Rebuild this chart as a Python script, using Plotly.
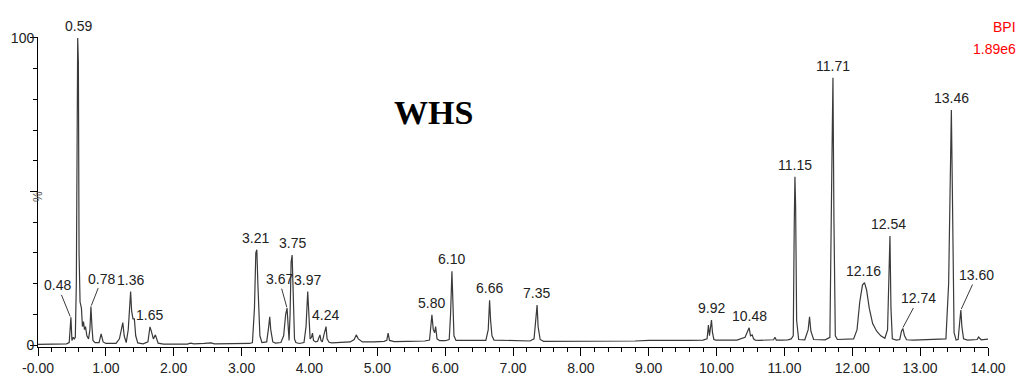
import plotly.graph_objects as go

# ---- chromatogram trace (retention time, min / relative intensity, %) ----
rt_min = [
    0.00, 0.20, 0.30, 0.42, 0.46, 0.475, 0.485, 0.50, 0.52, 0.535, 0.55, 0.565, 0.575, 0.585, 0.595, 0.605,
    0.62, 0.64, 0.655, 0.67, 0.685, 0.70, 0.72, 0.745, 0.765, 0.78, 0.795, 0.81, 0.84, 0.90, 0.93, 0.96, 1.00,
    1.15, 1.20, 1.235, 1.25, 1.27, 1.30, 1.33, 1.35, 1.365, 1.38, 1.40, 1.42, 1.44, 1.47, 1.55, 1.62, 1.65,
    1.67, 1.70, 1.73, 1.745, 1.77, 1.85,
    2.20, 2.25, 2.30, 2.45, 2.55, 2.60, 2.90, 3.12,
    3.16, 3.19, 3.21, 3.225, 3.24, 3.27, 3.30, 3.37, 3.40, 3.415, 3.43, 3.46, 3.50, 3.58, 3.62, 3.65, 3.67,
    3.685, 3.70, 3.715, 3.73, 3.745, 3.76, 3.78, 3.80, 3.85, 3.92, 3.95, 3.975, 3.99, 4.01, 4.03, 4.045, 4.06,
    4.09, 4.12, 4.155, 4.17, 4.19, 4.21, 4.245, 4.26, 4.29, 4.33,
    4.45, 4.60, 4.66, 4.69, 4.72, 4.78, 4.95, 5.10, 5.14, 5.16, 5.18, 5.25, 5.45, 5.60, 5.70,
    5.77, 5.79, 5.805, 5.825, 5.845, 5.86, 5.88, 5.92, 6.00, 6.06, 6.08, 6.10, 6.115, 6.13, 6.16, 6.30,
    6.50, 6.60, 6.635, 6.655, 6.67, 6.69, 6.72, 6.90, 7.10, 7.25, 7.31, 7.34, 7.355, 7.37, 7.40, 7.45,
    7.60, 7.80, 8.00, 8.20, 8.40, 8.60, 8.80, 9.00, 9.20, 9.40, 9.60, 9.80, 9.86, 9.88, 9.895, 9.91, 9.925,
    9.94, 9.96, 9.99, 10.10, 10.30, 10.42, 10.46, 10.48, 10.50, 10.525, 10.545, 10.57, 10.62, 10.75, 10.84,
    10.86, 10.88, 10.95, 11.05, 11.10,
    11.13, 11.145, 11.155, 11.165, 11.18, 11.21, 11.30, 11.35, 11.37, 11.39, 11.43, 11.60, 11.67, 11.70,
    11.715, 11.73, 11.75, 11.78, 11.90, 12.02, 12.07, 12.11, 12.15, 12.18, 12.21, 12.25, 12.30, 12.36, 12.42,
    12.48, 12.52, 12.54, 12.555, 12.57, 12.59, 12.65, 12.70, 12.725, 12.745, 12.77, 12.80, 12.90, 13.10,
    13.25, 13.30, 13.38, 13.42, 13.445, 13.46, 13.475, 13.50, 13.53, 13.56, 13.585, 13.60, 13.615, 13.64,
    13.70, 13.80, 13.84, 13.86, 13.90, 14.00,
]
intensity_pct = [
    0.2, 0.3, 0.5, 0.4, 0.8, 5.0, 9.0, 1.5, 2.5, 2.0, 2.5, 20.0, 70.0, 100.0, 92.0, 30.0,
    14.0, 12.0, 6.0, 7.6, 5.0, 6.0, 3.0, 2.0, 5.0, 12.5, 6.0, 1.5, 0.8, 0.8, 3.6, 1.0, 0.5,
    0.5, 2.0, 6.5, 7.3, 3.0, 0.8, 5.0, 14.0, 17.4, 11.0, 8.5, 8.5, 3.0, 0.7, 0.4, 1.0, 5.9,
    4.5, 2.0, 3.3, 2.5, 0.6, 0.3,
    0.3, 0.6, 0.4, 0.5, 0.7, 0.4, 0.4, 0.5,
    0.8, 12.0, 30.0, 31.0, 20.0, 3.0, 0.8, 1.0, 6.0, 9.2, 5.0, 1.0, 0.6, 0.8, 3.0, 10.0, 12.0,
    5.0, 1.5, 10.0, 27.0, 29.3, 15.0, 2.0, 0.8, 0.5, 0.8, 6.0, 17.4, 8.0, 2.0, 2.5, 3.9, 1.5,
    1.0, 1.2, 3.3, 1.5, 1.0, 3.0, 6.0, 2.0, 0.9, 0.7,
    0.8, 1.0, 1.8, 3.3, 2.0, 1.0, 1.0, 1.2, 1.5, 3.9, 1.5, 1.1, 1.2, 1.3, 1.3,
    1.6, 6.0, 9.8, 5.0, 4.0, 6.0, 2.0, 1.4, 1.4, 1.8, 10.0, 24.0, 15.0, 3.0, 1.5, 1.5,
    1.5, 1.5, 5.0, 14.6, 8.0, 3.0, 1.6, 1.5, 1.2, 1.3, 2.0, 8.0, 13.0, 6.0, 1.8, 1.2,
    1.2, 1.3, 1.3, 1.4, 1.3, 1.4, 1.3, 1.5, 1.4, 1.5, 1.5, 1.6, 2.0, 6.5, 3.0, 6.0, 8.1,
    4.0, 1.8, 1.6, 1.6, 1.6, 2.5, 4.5, 5.6, 3.0, 3.3, 2.0, 1.6, 1.5, 1.6, 1.7,
    2.5, 1.6, 1.6, 1.7, 2.0,
    3.0, 40.0, 54.8, 45.0, 8.0, 1.8, 1.7, 5.0, 9.2, 4.5, 1.8, 1.7, 2.5, 60.0,
    87.0, 40.0, 3.0, 1.8, 1.8, 2.0, 5.0, 14.0, 19.5, 20.3, 18.0, 12.0, 7.0, 4.5, 3.0,
    2.2, 5.0, 30.0, 35.5, 12.0, 2.0, 1.6, 1.8, 4.5, 5.4, 3.0, 1.7, 1.6, 1.7,
    2.0, 1.8, 2.0, 20.0, 65.0, 76.5, 50.0, 4.0, 1.6, 1.8, 8.0, 11.4, 6.0, 2.0,
    1.6, 1.7, 1.8, 2.6, 1.7, 1.9,
]

# ---- peak labels ----
peak_labels = ["0.48", "0.59", "0.78", "1.36", "1.65", "3.21", "3.67", "3.75", "3.97", "4.24",
               "5.80", "6.10", "6.66", "7.35", "9.92", "10.48", "11.15", "11.71", "12.16",
               "12.54", "12.74", "13.46", "13.60"]

# ---- axis ticks ----
x_tick_vals = list(range(0, 15))
x_tick_text = ["-0.00"] + [f"{v:.2f}" for v in x_tick_vals[1:]]
y_tick_vals = [0, 50, 100]
y_tick_text = ["0", "", "100"]

title_text = "WHS"
detector_text = "BPI"
scale_text = "1.89e6"

# leader-line offsets (pixels) for labels placed away from their peak
leader_offsets = {"0.48": (-13, -32), "0.78": (11, -28), "3.67": (-8, -29),
                  "12.74": (16, -30), "13.60": (16, -35)}

SANS = "Liberation Sans, Arial, sans-serif"
LINE = "#3a3a3a"
TXT = "#222222"
LABEL_SIZE = 14

fig = go.Figure()
fig.add_trace(go.Scatter(x=rt_min, y=intensity_pct, mode="lines",
                         line=dict(color=LINE, width=1.2), hoverinfo="skip",
                         showlegend=False))

annotations = []
for lab in peak_labels:
    t = float(lab)
    h = max(y for x, y in zip(rt_min, intensity_pct) if abs(x - t) <= 0.04)
    if lab in leader_offsets:
        axp, ayp = leader_offsets[lab]
        annotations.append(dict(x=t, y=h, xref="x", yref="y", text=lab,
                                showarrow=True, arrowhead=0, arrowwidth=1,
                                arrowcolor=LINE, ax=axp, ay=ayp, standoff=1,
                                font=dict(family=SANS, size=LABEL_SIZE, color=TXT)))
    else:
        annotations.append(dict(x=t, y=h, xref="x", yref="y", text=lab,
                                showarrow=False, yanchor="bottom", yshift=2,
                                font=dict(family=SANS, size=LABEL_SIZE, color=TXT)))

annotations += [
    dict(x=0.4158, y=0.755, xref="paper", yref="paper", text="<b>" + title_text + "</b>",
         xanchor="center", yanchor="middle", showarrow=False,
         font=dict(family="Liberation Serif, Times New Roman, serif", size=34, color="#000000")),
    dict(x=1.0316, y=1.032, xref="paper", yref="paper", text=detector_text,
         xanchor="right", yanchor="middle", showarrow=False,
         font=dict(family=SANS, size=14, color="#ff0000")),
    dict(x=1.0316, y=0.961, xref="paper", yref="paper", text=scale_text,
         xanchor="right", yanchor="middle", showarrow=False,
         font=dict(family=SANS, size=14, color="#ff0000")),
    dict(x=0.0, y=0.484, xref="paper", yref="paper", text="%", textangle=-90,
         xanchor="center", yanchor="middle", showarrow=False,
         font=dict(family=SANS, size=12, color="#555555")),
]

# the page body adds an 8 px offset, so the margins are shifted to compensate
fig.update_layout(
    width=1024, height=390,
    margin=dict(l=30, r=44, t=29, b=51, autoexpand=False),
    paper_bgcolor="white", plot_bgcolor="white",
    annotations=annotations,
    xaxis=dict(range=[0, 14], showgrid=False, zeroline=False, automargin=False,
               showline=True, linecolor="#000000", linewidth=1,
               tickmode="array", tickvals=x_tick_vals, ticktext=x_tick_text,
               ticks="outside", ticklen=8, tickcolor="#000000", tickwidth=1,
               tickfont=dict(family=SANS, size=14, color=TXT),
               minor=dict(tick0=0, dtick=0.2, ticks="outside", ticklen=4,
                          tickcolor="#000000", showgrid=False)),
    yaxis=dict(range=[-0.65, 100.3], showgrid=False, zeroline=False, automargin=False,
               showline=True, linecolor="#000000", linewidth=1,
               tickmode="array", tickvals=y_tick_vals, ticktext=y_tick_text,
               ticks="outside", ticklen=7, tickcolor="#000000", tickwidth=1,
               ticklabelstandoff=-7,
               tickfont=dict(family=SANS, size=14, color=TXT),
               minor=dict(tick0=0, dtick=10, ticks="outside", ticklen=4,
                          tickcolor="#000000", showgrid=False)),
)

fig.write_html("out.html")
